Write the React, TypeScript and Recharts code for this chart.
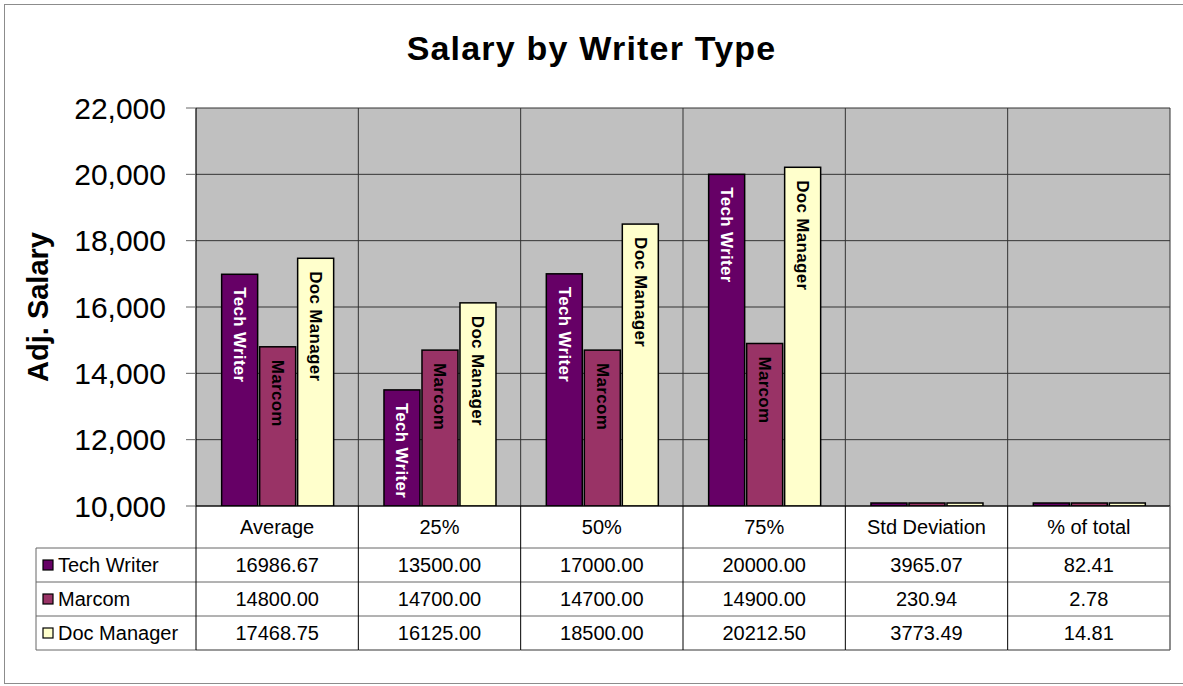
import React from "react";
import { Bar, BarChart, CartesianGrid, LabelList, XAxis, YAxis } from "recharts";

const categories = ["Average", "25%", "50%", "75%", "Std Deviation", "% of total"];
const techWriter = [16986.67, 13500.0, 17000.0, 20000.0, 3965.07, 82.41];
const marcom = [14800.0, 14700.0, 14700.0, 14900.0, 230.94, 2.78];
const docManager = [17468.75, 16125.0, 18500.0, 20212.5, 3773.49, 14.81];
const yTicks = [10000, 12000, 14000, 16000, 18000, 20000, 22000];

const seriesNames = ["Tech Writer", "Marcom", "Doc Manager"];
const seriesKeys = ["tech", "marcom", "doc"];
const seriesValues = [techWriter, marcom, docManager];
const seriesColors = ["#660066", "#993366", "#FFFFCC"];
const labelColors = ["#ffffff", "#000000", "#000000"];

const data = categories.map((category, i) => ({
  category,
  tech: techWriter[i],
  marcom: marcom[i],
  doc: docManager[i],
}));

const W = 1183;
const H = 686;
const MARGIN = { top: 108, right: 13, bottom: 30, left: 96 };
const Y_AXIS_W = 100;
const PLOT_W = W - MARGIN.left - MARGIN.right - Y_AXIS_W;
const COL_W = PLOT_W / categories.length;
const FONT = "'Liberation Sans', Arial, Helvetica, sans-serif";

const HEADER_H = 42;
const ROW_H = 34;
const LEGEND_W = 160;

function TableTick(props: any) {
  const { x, y, payload } = props;
  const idx = categories.indexOf(payload.value);
  const left = x - COL_W / 2;
  const right = x + COL_W / 2;
  const bottom = y + HEADER_H + ROW_H * 3;
  return (
    <g fontFamily={FONT}>
      {idx === 0 && (
        <g>
          {[0, 1, 2, 3].map((r) => (
            <line
              key={r}
              x1={left - LEGEND_W}
              x2={left}
              y1={y + HEADER_H + r * ROW_H}
              y2={y + HEADER_H + r * ROW_H}
              stroke="#666"
            />
          ))}
          <line x1={left - LEGEND_W} x2={left - LEGEND_W} y1={y + HEADER_H} y2={bottom} stroke="#666" />
          {seriesNames.map((name, r) => {
            const cy = y + HEADER_H + r * ROW_H + ROW_H / 2;
            return (
              <g key={name}>
                <rect x={left - LEGEND_W + 7} y={cy - 5} width={10} height={10} fill={seriesColors[r]} stroke="#000" strokeWidth={1.2} />
                <text x={left - LEGEND_W + 22} y={cy + 7} fontSize={20} fill="#000">
                  {name}
                </text>
              </g>
            );
          })}
        </g>
      )}
      {[1, 2, 3].map((r) => (
        <line key={r} x1={left} x2={right} y1={y + HEADER_H + (r - 1) * ROW_H} y2={y + HEADER_H + (r - 1) * ROW_H} stroke="#666" />
      ))}
      <line x1={left} x2={right} y1={bottom} y2={bottom} stroke="#777" strokeWidth={1.5} />
      <line x1={left} x2={left} y1={y} y2={bottom} stroke="#000" />
      {idx === categories.length - 1 && <line x1={right} x2={right} y1={y} y2={bottom} stroke="#666" strokeWidth={1.5} />}
      <text x={x} y={y + 28} textAnchor="middle" fontSize={20} fill="#000">
        {payload.value}
      </text>
      {seriesValues.map((vals, r) => (
        <text key={r} x={x} y={y + HEADER_H + r * ROW_H + ROW_H / 2 + 7} textAnchor="middle" fontSize={20} fill="#000">
          {vals[idx].toFixed(2)}
        </text>
      ))}
    </g>
  );
}

// bars whose value falls below the axis minimum show as a thin sliver on the baseline
function BarShape(props: any) {
  const { x, y, width, height, fill } = props;
  if (height < 0) {
    const base = y + height;
    return <rect x={x} y={base - 3} width={width} height={3} fill={fill} stroke="#000" strokeWidth={1.5} />;
  }
  return <rect x={x} y={y} width={width} height={height} fill={fill} stroke="#000" strokeWidth={1.5} />;
}

function makeBarLabel(name: string, color: string) {
  return (props: any) => {
    const { x, y, width, value } = props;
    if (value < yTicks[0]) return null;
    const cx = x + width / 2;
    const ty = y + 13;
    return (
      <text
        x={cx}
        y={ty}
        transform={`rotate(90 ${cx} ${ty})`}
        textAnchor="start"
        dominantBaseline="central"
        fontFamily={FONT}
        fontWeight="bold"
        fontSize={17}
        letterSpacing={0.3}
        fill={color}
      >
        {name}
      </text>
    );
  };
}

export default function App() {
  return (
    <div style={{ position: "absolute", left: 0, top: 0, width: W, height: H, background: "#fff", overflow: "hidden" }}>
      <div
        style={{
          position: "absolute",
          left: 4,
          top: 4,
          width: W,
          height: 680,
          border: "1px solid #8c8c8c",
          boxSizing: "border-box",
        }}
      />
      <div
        style={{
          position: "absolute",
          left: 0,
          top: 29,
          width: W,
          textAlign: "center",
          fontFamily: FONT,
          fontWeight: "bold",
          fontSize: 34,
          letterSpacing: 1.2,
          color: "#000",
        }}
      >
        Salary by Writer Type
      </div>
      <div style={{ position: "absolute", left: 0, top: 0 }}>
        <BarChart width={W} height={H} data={data} margin={MARGIN} barCategoryGap="15.8%" barGap={2}>
          <CartesianGrid
            fill="#C0C0C0"
            fillOpacity={1}
            stroke="#333"
            strokeWidth={1}
            verticalCoordinatesGenerator={({ offset }: any) =>
              categories.map((_, i) => offset.left + ((i + 1) * offset.width) / categories.length)
            }
          />
          <XAxis
            dataKey="category"
            interval={0}
            tickLine={false}
            tickSize={0}
            tickMargin={0}
            height={150}
            axisLine={{ stroke: "#000", strokeWidth: 1.2 }}
            tick={<TableTick />}
          />
          <YAxis
            domain={[yTicks[0], yTicks[yTicks.length - 1]]}
            ticks={yTicks}
            allowDataOverflow
            width={Y_AXIS_W}
            tickSize={10}
            tickMargin={20}
            tickLine={{ stroke: "#666" }}
            axisLine={{ stroke: "#000", strokeWidth: 1.2 }}
            tickFormatter={(v: number) => v.toLocaleString("en-US")}
            tick={{ fontSize: 30, fill: "#000", fontFamily: FONT }}
            label={(p: any) => {
              const vb = p.viewBox || { x: MARGIN.left, y: MARGIN.top, height: 398 };
              const lx = vb.x - 58;
              const ly = vb.y + vb.height / 2;
              return (
                <text
                  x={lx}
                  y={ly}
                  transform={`rotate(-90 ${lx} ${ly})`}
                  textAnchor="middle"
                  dominantBaseline="central"
                  fontFamily={FONT}
                  fontWeight="bold"
                  fontSize={29}
                  fill="#000"
                >
                  Adj. Salary
                </text>
              );
            }}
          />
          {seriesKeys.map((key, i) => (
            <Bar
              key={key}
              dataKey={key}
              name={seriesNames[i]}
              fill={seriesColors[i]}
              stroke="#000"
              strokeWidth={1.5}
              shape={<BarShape />}
              isAnimationActive={false}
            >
              <LabelList dataKey={key} content={makeBarLabel(seriesNames[i], labelColors[i])} />
            </Bar>
          ))}
        </BarChart>
      </div>
    </div>
  );
}
